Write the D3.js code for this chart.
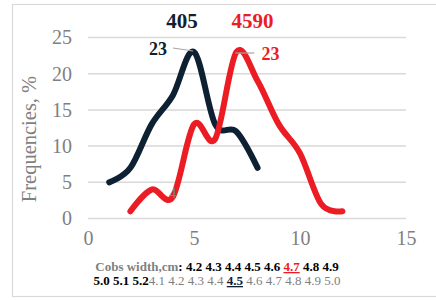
<!DOCTYPE html>
<html>
<head>
<meta charset="utf-8">
<script src="https://cdn.jsdelivr.net/npm/d3@7"></script>
<style>
body { margin: 0; background: #fff; }
svg { display: block; font-family: "Liberation Serif", "Times New Roman", serif; }
</style>
</head>
<body>
<script>
// data
var xTicks = [0, 5, 10, 15];
var yTicks = [0, 5, 10, 15, 20, 25];
var blackX = [1, 2, 3, 4, 5, 6, 7, 8];
var blackY = [5, 7, 13, 17, 23, 13, 12, 7];
var redX = [2, 3, 4, 5, 6, 7, 8, 9, 10, 11, 12];
var redY = [1, 4, 3, 13, 11, 23, 19, 13, 9, 2, 1];
var seriesNames = ["405", "4590"];
var peakLabels = ["23", "23"];

var navy = "#0e2133";
var red = "#ec1c24";
var gray = "#7f7f7f";

var svg = d3.select("body")
			.append("svg")
			.attr("width", 436)
			.attr("height", 300);

// outer chart border
svg.append("rect")
	.attr("x", 12.5)
	.attr("y", 4.5)
	.attr("width", 440)
	.attr("height", 292)
	.attr("fill", "none")
	.attr("stroke", "#d9d9d9")
	.attr("stroke-width", 1.2);

var x = d3.scaleLinear().domain([0, 15]).range([88, 406]);
var y = d3.scaleLinear().domain([0, 25]).range([218.5, 37.5]);

// gridlines
svg.selectAll("line.grid")
	.data(yTicks)
	.enter()
	.append("line")
	.attr("class", "grid")
	.attr("x1", x(0))
	.attr("x2", x(15))
	.attr("y1", function(d){return y(d);})
	.attr("y2", function(d){return y(d);})
	.attr("stroke", "#d9d9d9")
	.attr("stroke-width", 1.5);

// axes
var yAxis = svg.append("g")
				.attr("transform", "translate(" + (x(0) - 16) + ",0)")
				.call(d3.axisLeft(y).tickValues(yTicks).tickSize(0).tickPadding(0));
var xAxis = svg.append("g")
				.attr("transform", "translate(0," + (y(0) + 14) + ")")
				.call(d3.axisBottom(x).tickValues(xTicks).tickSize(0).tickPadding(0));

[yAxis, xAxis].forEach(function(a){
	a.select(".domain").remove();
	a.selectAll("text")
		.attr("fill", gray)
		.style("font-family", "Liberation Serif")
		.style("font-size", "20px");
});
xAxis.selectAll("text").attr("dy", "0.6em");

// axis title
svg.append("text")
	.attr("transform", "translate(36,139) rotate(-90)")
	.attr("text-anchor", "middle")
	.attr("fill", gray)
	.style("font-size", "20.5px")
	.text("Frequencies, %");

// smoothed lines
var line = d3.line()
			.x(function(d){return x(d[0]);})
			.y(function(d){return y(d[1]);})
			.curve(d3.curveCatmullRom.alpha(0));

var blackData = d3.zip(blackX, blackY);
var redData = d3.zip(redX, redY);

svg.append("path")
	.datum(blackData)
	.attr("d", line)
	.attr("fill", "none")
	.attr("stroke", navy)
	.attr("stroke-width", 6)
	.attr("stroke-linecap", "round")
	.attr("stroke-linejoin", "round");

svg.append("path")
	.datum(redData)
	.attr("d", line)
	.attr("fill", "none")
	.attr("stroke", red)
	.attr("stroke-width", 6)
	.attr("stroke-linecap", "round")
	.attr("stroke-linejoin", "round");

// stray data label near the red dip
svg.append("text")
	.attr("x", x(4))
	.attr("y", y(2.9))
	.attr("text-anchor", "middle")
	.attr("fill", gray)
	.style("font-size", "15px")
	.text("4");

// series names
svg.append("text")
	.attr("x", 182).attr("y", 28)
	.attr("text-anchor", "middle")
	.attr("fill", navy)
	.style("font-size", "21px").style("font-weight", "bold")
	.text(seriesNames[0]);
svg.append("text")
	.attr("x", 252.5).attr("y", 28)
	.attr("text-anchor", "middle")
	.attr("fill", red)
	.style("font-size", "21px").style("font-weight", "bold")
	.text(seriesNames[1]);

// peak labels with leader lines
var bPeak = blackData[4];
var rPeak = redData[5];
svg.append("line")
	.attr("x1", x(bPeak[0]) - 21).attr("y1", y(bPeak[1]) - 4)
	.attr("x2", x(bPeak[0]) - 1).attr("y2", y(bPeak[1]) - 1)
	.attr("stroke", "#a6a6a6").attr("stroke-width", 1.2);
svg.append("text")
	.attr("x", x(bPeak[0]) - 27).attr("y", y(bPeak[1]) + 3)
	.attr("text-anchor", "end")
	.attr("fill", navy)
	.style("font-size", "18px").style("font-weight", "bold")
	.text(peakLabels[0]);

svg.append("line")
	.attr("x1", x(rPeak[0]) - 1).attr("y1", y(rPeak[1]) + 1)
	.attr("x2", x(rPeak[0]) + 18).attr("y2", y(rPeak[1]) + 1)
	.attr("stroke", "#a6a6a6").attr("stroke-width", 1.2);
svg.append("text")
	.attr("x", x(rPeak[0]) + 25).attr("y", y(rPeak[1]) + 8)
	.attr("text-anchor", "start")
	.attr("fill", red)
	.style("font-size", "18px").style("font-weight", "bold")
	.text(peakLabels[1]);

// caption under the axis
var line1 = [
	{t: "Cobs width,cm", c: gray, w: "bold"},
	{t: ": 4.2 4.3 4.4 4.5 4.6 ", c: "#000", w: "bold"},
	{t: "4.7", c: red, w: "bold", u: true},
	{t: " 4.8 4.9", c: "#000", w: "bold"}
];
var line2 = [
	{t: "5.0 5.1 5.2", c: "#000", w: "bold"},
	{t: "4.1 4.2 4.3 4.4 ", c: gray, w: "normal"},
	{t: "4.5", c: navy, w: "bold", u: true},
	{t: " 4.6 4.7 4.8 4.9 5.0", c: gray, w: "normal"}
];

[[line1, 271], [line2, 285]].forEach(function(L){
	var txt = svg.append("text")
				.attr("x", 217)
				.attr("y", L[1])
				.attr("text-anchor", "middle")
				.style("font-size", "13px")
				.style("white-space", "pre");
	txt.selectAll("tspan")
		.data(L[0])
		.enter()
		.append("tspan")
		.attr("fill", function(d){return d.c;})
		.style("font-weight", function(d){return d.w;})
		.style("text-decoration", function(d){return d.u ? "underline" : "none";})
		.text(function(d){return d.t;});
});
</script>
</body>
</html>
